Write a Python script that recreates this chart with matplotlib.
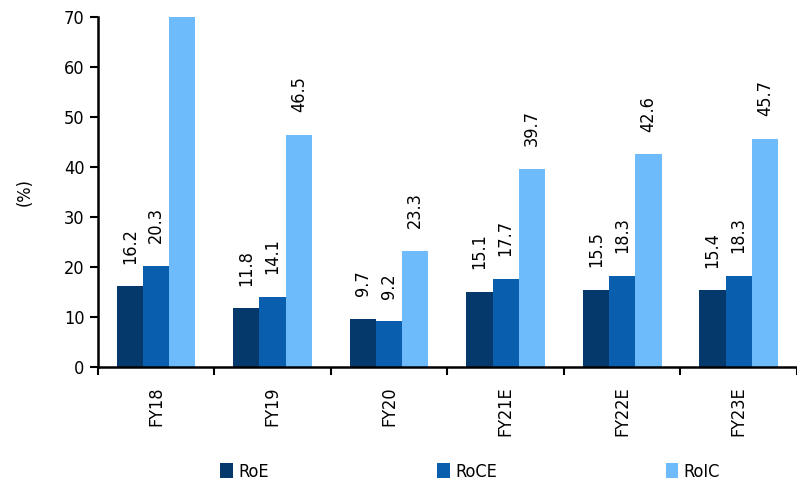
import matplotlib
matplotlib.use("Agg")
import matplotlib.pyplot as plt
import numpy as np

categories = ["FY18", "FY19", "FY20", "FY21E", "FY22E", "FY23E"]
roe = [16.2, 11.8, 9.7, 15.1, 15.5, 15.4]
roce = [20.3, 14.1, 9.2, 17.7, 18.3, 18.3]
roic = [85.0, 46.5, 23.3, 39.7, 42.6, 45.7]
series_names = ["RoE", "RoCE", "RoIC"]
colors = ["#06396B", "#0A5EAE", "#6EBBFB"]

plt.rcParams['font.family'] = ['DejaVu Sans']
plt.rcParams['font.stretch'] = 'condensed'

fig = plt.figure(figsize=(7.97, 4.84), dpi=100)
left = 97.7 / 797
bottom = 1 - 367 / 484
top = 1 - 17 / 484
ax = fig.add_axes([left, bottom, 1 - left, top - bottom])

x = np.arange(len(categories))
w = 0.225
ymax = 70
for i, (vals, name, c) in enumerate(zip([roe, roce, roic], series_names, colors)):
    xs = x + (i - 1) * w
    ax.bar(xs, vals, width=w, color=c, label=name)
    for xi, v in zip(xs, vals):
        if v <= ymax:
            ax.annotate(f"{v:.1f}", (xi, v), xytext=(0, 16), textcoords="offset points",
                        rotation=90, ha="center", va="bottom", fontsize=13)

ax.set_ylim(0, ymax)
ax.set_yticks(np.arange(0, 71, 10))
ax.set_xlim(-0.5, -0.5 + (797 - 97.7) / 117.8)
ax.set_xticks(np.arange(-0.5, len(categories), 1.0))
ax.set_xticklabels([])
ax.set_xticks(x, minor=True)
ax.set_xticklabels(categories, minor=True, rotation=90, fontsize=13)
ax.tick_params(axis='x', which='minor', length=0, pad=14)
ax.tick_params(axis='x', which='major', length=6, width=1.5, direction='out')
ax.tick_params(axis='y', length=6, width=1.5, labelsize=13)
for s in ["top", "right"]:
    ax.spines[s].set_visible(False)
ax.spines["left"].set_linewidth(1.8)
ax.spines["bottom"].set_linewidth(1.8)
ax.set_ylabel("(%)", fontsize=13, labelpad=22)

fig.legend(loc="lower left", bbox_to_anchor=(0.256, -0.027, 0.668, 0.08), ncol=3, mode="expand",
           frameon=False, fontsize=13, handlelength=0.7, handleheight=0.9, handletextpad=0.3)

fig.savefig("out.png", dpi=100)
